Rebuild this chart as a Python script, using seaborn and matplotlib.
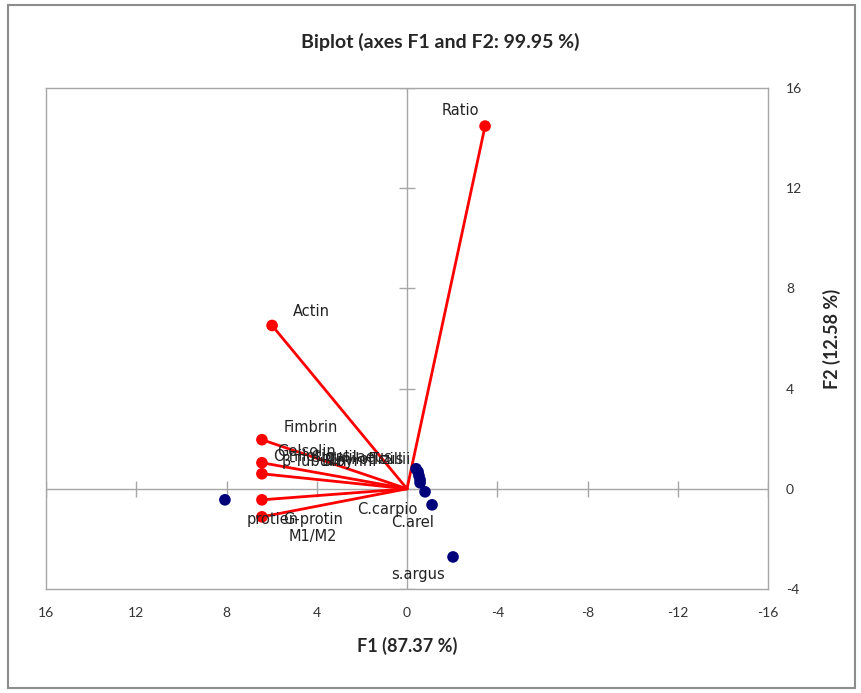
import numpy as np
import pandas as pd
import seaborn as sns
import matplotlib
matplotlib.use("Agg")
import matplotlib.pyplot as plt
from matplotlib.patches import Rectangle

# variables (red vectors)
var_names = ["Ratio", "Actin", "Fimbrin", "Gelsolin", "β-Tubulin", "protien", "G-protin\nM1/M2"]
var_f1 = [-3.46, 5.98, 6.43, 6.43, 6.43, 6.43, 6.43]
var_f2 = [14.48, 6.52, 1.96, 1.04, 0.60, -0.44, -1.12]

# observations (blue points)
obs_names = ["", "T.zillii", "L.niloticus", "B.bynni", "S.galilaeus", "O.niloticus", "C.carpio", "C.arel", "s.argus"]
obs_f1 = [8.07, -0.40, -0.49, -0.53, -0.58, -0.58, -0.80, -1.11, -2.04]
obs_f2 = [-0.44, 0.80, 0.68, 0.52, 0.36, 0.24, -0.12, -0.64, -2.72]

x_ticks = [16, 12, 8, 4, 0, -4, -8, -12, -16]
y_ticks = [-4, 0, 4, 8, 12, 16]

var_df = pd.DataFrame({"name": var_names, "F1": var_f1, "F2": var_f2})
obs_df = pd.DataFrame({"name": obs_names, "F1": obs_f1, "F2": obs_f2})

sns.set_style("white")
plt.rcParams["font.family"] = ["Lato", "DejaVu Sans"]
plt.rcParams["axes.unicode_minus"] = False

fig = plt.figure(figsize=(8.61, 6.93), dpi=100)
ax = fig.add_axes([46 / 861, 1 - 589 / 693, (768 - 46) / 861, (589 - 88) / 693])

grey = "#a6a6a6"
# center axes with cross ticks
ax.axhline(0, color=grey, lw=1, zorder=1)
ax.axvline(0, color=grey, lw=1, zorder=1)
ax.plot(x_ticks, [0] * len(x_ticks), "|", color=grey, ms=12, mew=1, zorder=1)
ax.plot([0] * len(y_ticks), y_ticks, "_", color=grey, ms=12, mew=1, zorder=1)

# vectors
for _, r in var_df.iterrows():
    ax.plot([0, r.F1], [0, r.F2], color="#ff0000", lw=2, zorder=2)
sns.scatterplot(data=var_df, x="F1", y="F2", color="#ff0000", s=70,
                edgecolor="none", ax=ax, zorder=3)
sns.scatterplot(data=obs_df, x="F1", y="F2", color="#00007a", s=70,
                edgecolor="none", ax=ax, zorder=3)

lab_font = dict(family="DejaVu Sans", fontsize=10.5, color="#222222")

# label offsets in points
var_off = {"Ratio": (-18, 11, "center"), "Actin": (28, 10, "center"),
           "Fimbrin": (35, 9, "center"), "Gelsolin": (32, 8, "center"),
           "β-Tubulin": (14, 9, "left"), "protien": (8, -14, "center"),
           "G-protin\nM1/M2": (37, -8, "center")}
for _, r in var_df.iterrows():
    dx, dy, ha = var_off[r["name"]]
    ax.annotate(r["name"], (r.F1, r.F2), xytext=(dx, dy), textcoords="offset points",
                ha=ha, va="center", zorder=4, linespacing=1.1, **lab_font)

obs_off = {"T.zillii": (-4, 7), "L.niloticus": (-10, 9), "B.bynni": (-30, 10),
           "S.galilaeus": (-20, 16), "O.niloticus": (-50, 19),
           "C.carpio": (-27, -13), "C.arel": (-14, -13), "s.argus": (-25, -13)}
for _, r in obs_df.iterrows():
    if r["name"] in obs_off:
        dx, dy = obs_off[r["name"]]
        ha = "right" if dy > 0 else "center"
        ax.annotate(r["name"], (r.F1, r.F2), xytext=(dx, dy), textcoords="offset points",
                    ha=ha, va="center", zorder=4, **lab_font)

ax.set_xlim(16, -16)
ax.set_ylim(-4, 16)
ax.set_xticks(x_ticks)
ax.set_yticks(y_ticks)
ax.yaxis.tick_right()
ax.yaxis.set_label_position("right")
ax.tick_params(axis="both", length=0, labelsize=10, colors="#333333")
ax.tick_params(axis="x", pad=13)
ax.tick_params(axis="y", pad=13)
for s in ax.spines.values():
    s.set_color(grey)
    s.set_linewidth(1)
ax.set_xlabel("F1 (87.37 %)", fontsize=13, fontweight="bold", labelpad=13)
ax.set_ylabel("F2 (12.58 %)", fontsize=13, fontweight="bold", labelpad=15)
ax.grid(False)

fig.suptitle("Biplot (axes F1 and F2: 99.95 %)", y=1 - 42 / 693, va="center",
             fontsize=14, fontweight="bold", x=440 / 861)
fig.patches.append(Rectangle((8 / 861, 5 / 693), 847 / 861, 683 / 693,
                             transform=fig.transFigure, fill=False,
                             ec="#8c8c8c", lw=1.5))

fig.savefig("out.png", dpi=100)
